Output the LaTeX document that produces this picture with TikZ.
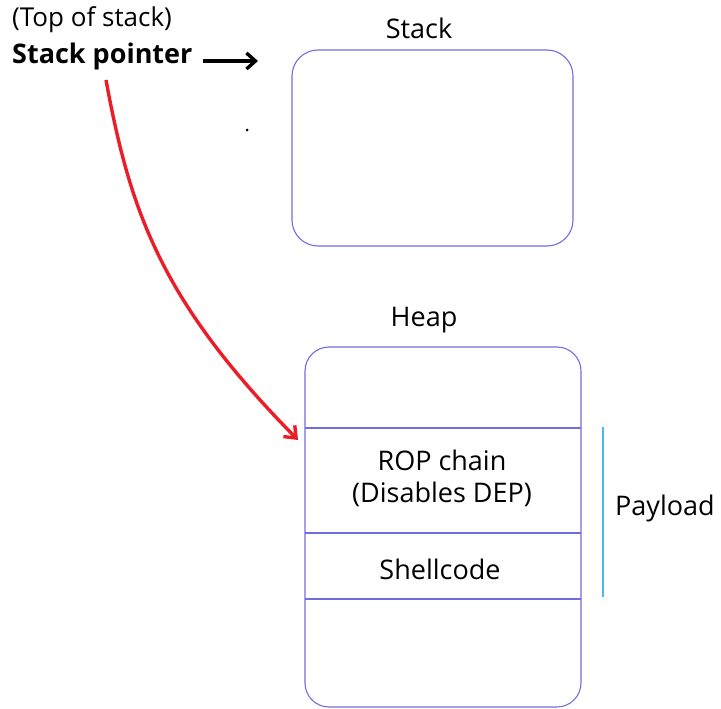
\documentclass[tikz,border=0pt]{standalone}
\usepackage{fontspec}
\setmainfont{Open Sans}
\usetikzlibrary{arrows.meta}
\definecolor{boxblue}{RGB}{110,110,225}
\definecolor{paycyan}{RGB}{70,185,235}
\definecolor{redarr}{RGB}{235,30,40}
\tikzset{
  memline/.style={draw=boxblue, line width=1.1pt},
  lbl/.style={font=\fontsize{27}{32}\selectfont, inner sep=0pt},
}
\begin{document}
\begin{tikzpicture}[x=1pt,y=-1pt]
\useasboundingbox (0,0) rectangle (721,709);
% stack
\node[lbl] (stacklbl) at (419,28) {Stack};
\draw[memline, rounded corners=26pt] (292,50) rectangle (573,246);
\coordinate (stackleft) at (258,61);
% heap
\node[lbl] (heaplbl) at (424,320) {Heap};
\draw[memline, rounded corners=24pt] (305,347) rectangle (581,707);
\draw[memline] (305,428) -- (581,428);
\draw[memline] (305,533) -- (581,533);
\draw[memline] (305,599) -- (581,599);
\node[lbl, align=center] (rop) at (442,478) {ROP chain\\(Disables DEP)};
\node[lbl] (shell) at (440,569) {Shellcode};
\draw[paycyan, line width=1.2pt] (603,427) -- (603,597);
\node[lbl, anchor=west] (payload) at (615,508) {Payload};
% labels top-left
\node[lbl, anchor=west, font=\fontsize{26}{30}\selectfont] (top) at (12,20) {(Top of stack)};
\node[lbl, anchor=west, font=\fontsize{27}{30}\selectfont\bfseries] (sp) at (12,56) {Stack pointer};
\coordinate (spstart) at (203,61);
\draw[-{Straight Barb[length=9pt,width=16pt]}, line width=3.4pt] (spstart) -- (stackleft);
\fill (247,130) circle (1.5pt);
% red arrow
\coordinate (ropleft) at (298,440);
\draw[redarr, line width=3.4pt, -{Straight Barb[length=10pt,width=16pt]}] (106,80) .. controls (130,210) and (160,300) .. (ropleft);
\end{tikzpicture}
\end{document}
